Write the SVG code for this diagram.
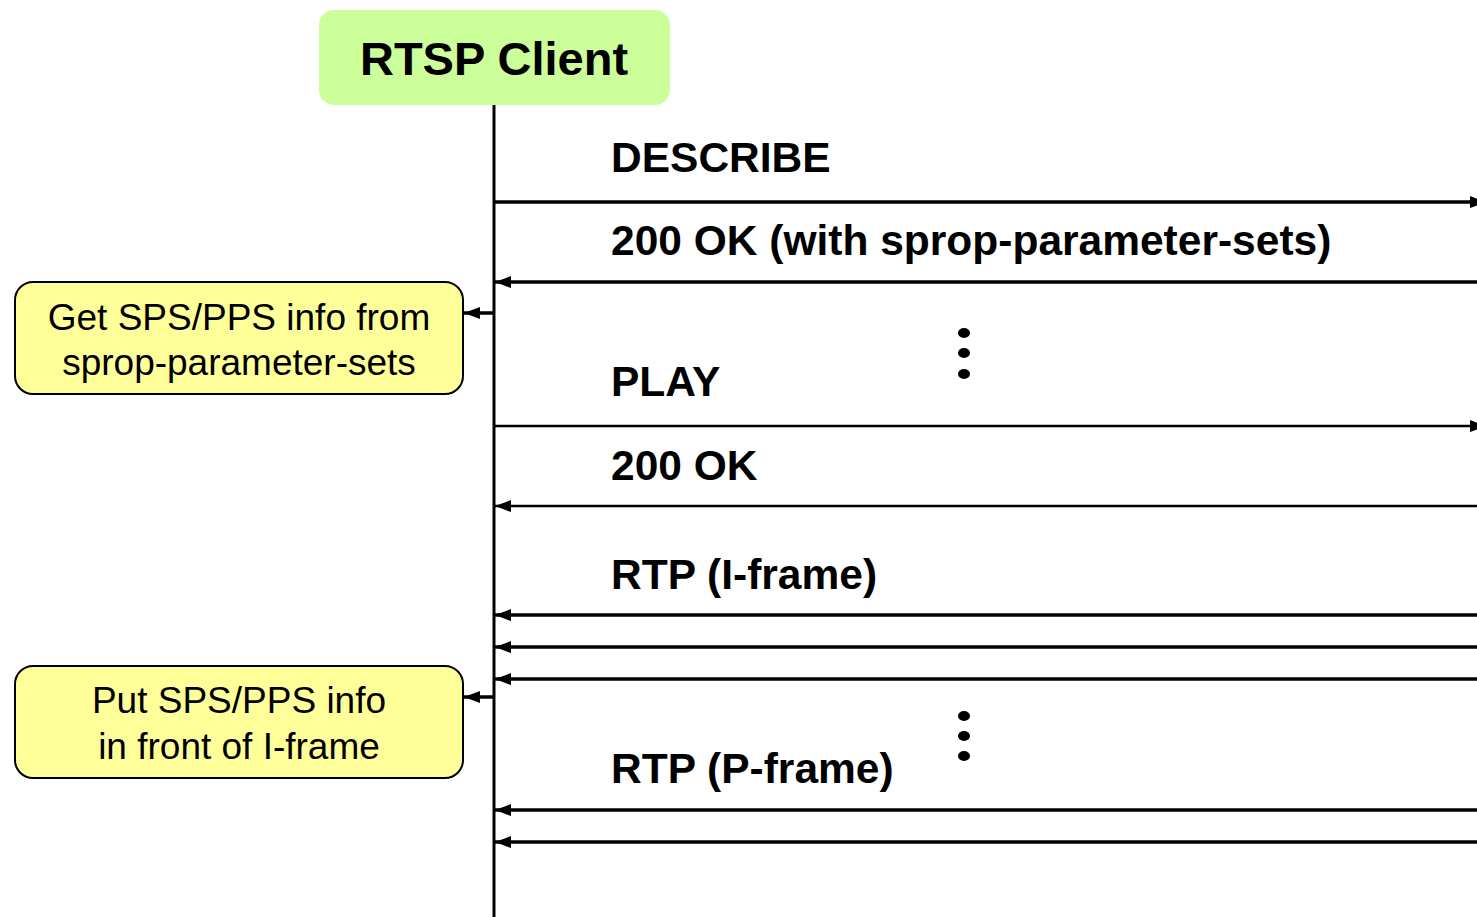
<svg xmlns="http://www.w3.org/2000/svg" width="1477" height="917" viewBox="0 0 1477 917">
<style>
.lbl{font-family:"Liberation Sans",Arial,sans-serif;font-weight:bold;font-size:42.5px;fill:#000}
.note{font-family:"Liberation Sans",Arial,sans-serif;font-size:37px;fill:#000;text-anchor:middle}
.msg{stroke:#000;fill:none}
.dot{fill:#000}
</style>
<defs>
<marker id="ah" markerUnits="userSpaceOnUse" markerWidth="16" markerHeight="12" refX="16" refY="6" orient="auto">
<path d="M0,0 L16,6 L0,12 Z" fill="#000"/>
</marker>
</defs>
<rect width="1477" height="917" fill="#fff"/>
<g id="client">
<rect x="319" y="10" width="351" height="95" rx="15" fill="#CCFF99"/>
<text x="494" y="75" text-anchor="middle" style="font-family:'Liberation Sans',Arial,sans-serif;font-weight:bold;font-size:47px">RTSP Client</text>
</g>
<g id="lifeline">
<line x1="494" y1="105" x2="494" y2="917" stroke="#000" stroke-width="3"/>
</g>
<g id="note1">
<rect x="15" y="282" width="448" height="112" rx="18" fill="#FFFF99" stroke="#000" stroke-width="2"/>
<text class="note" x="239" y="330">Get SPS/PPS info from</text>
<text class="note" x="239" y="375">sprop-parameter-sets</text>
</g>
<g id="note2">
<rect x="15" y="666" width="448" height="112" rx="18" fill="#FFFF99" stroke="#000" stroke-width="2"/>
<text class="note" x="239" y="713">Put SPS/PPS info</text>
<text class="note" x="239" y="759">in front of I-frame</text>
</g>
<g id="connectors">
<line class="msg" x1="494" y1="202" x2="1486" y2="202" stroke-width="3.5" marker-end="url(#ah)"/>
<line class="msg" x1="1477" y1="282" x2="495" y2="282" stroke-width="3.5" marker-end="url(#ah)"/>
<line class="msg" x1="494" y1="313" x2="464" y2="313" stroke-width="3.5" marker-end="url(#ah)"/>
<line class="msg" x1="494" y1="426" x2="1486" y2="426" stroke-width="2.5" marker-end="url(#ah)"/>
<line class="msg" x1="1477" y1="506" x2="495" y2="506" stroke-width="2.5" marker-end="url(#ah)"/>
<line class="msg" x1="1477" y1="615" x2="495" y2="615" stroke-width="3.5" marker-end="url(#ah)"/>
<line class="msg" x1="1477" y1="647" x2="495" y2="647" stroke-width="3.5" marker-end="url(#ah)"/>
<line class="msg" x1="1477" y1="679" x2="495" y2="679" stroke-width="3.5" marker-end="url(#ah)"/>
<line class="msg" x1="494" y1="697" x2="464" y2="697" stroke-width="3.5" marker-end="url(#ah)"/>
<line class="msg" x1="1477" y1="810" x2="495" y2="810" stroke-width="3.5" marker-end="url(#ah)"/>
<line class="msg" x1="1477" y1="842" x2="495" y2="842" stroke-width="3.5" marker-end="url(#ah)"/>
</g>
<g id="labels">
<text class="lbl" x="611" y="172">DESCRIBE</text>
<text class="lbl" x="611" y="255">200 OK (with sprop-parameter-sets)</text>
<text class="lbl" x="611" y="396">PLAY</text>
<text class="lbl" x="611" y="480">200 OK</text>
<text class="lbl" x="611" y="589">RTP (I-frame)</text>
<text class="lbl" x="611" y="783">RTP (P-frame)</text>
</g>
<g id="dots">
<ellipse class="dot" cx="964" cy="333" rx="6" ry="5"/>
<ellipse class="dot" cx="964" cy="353" rx="6" ry="5"/>
<ellipse class="dot" cx="964" cy="374" rx="6" ry="5"/>
<ellipse class="dot" cx="964" cy="716" rx="6" ry="5"/>
<ellipse class="dot" cx="964" cy="736" rx="6" ry="5"/>
<ellipse class="dot" cx="964" cy="756" rx="6" ry="5"/>
</g>
</svg>
